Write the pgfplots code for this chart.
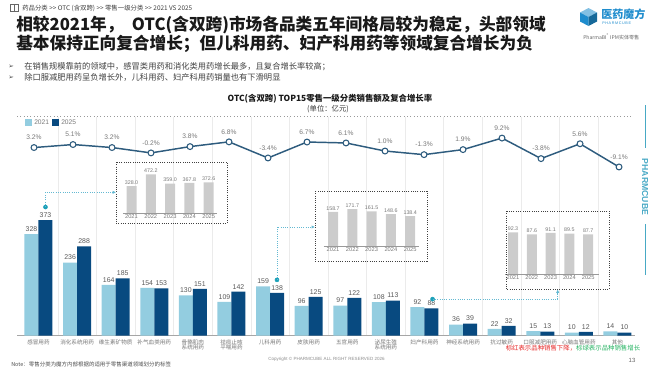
\documentclass[border=0pt]{standalone}
\usepackage{pgfplots}
\pgfplotsset{compat=1.18}
\usepackage{fontspec}
\setmainfont{Liberation Sans}
\newfontfamily\cjk{Noto Sans CJK SC}
\newfontfamily\dejavu{DejaVu Sans}
\usetikzlibrary{arrows.meta}
\definecolor{lb}{RGB}{147,205,224}
\definecolor{db}{RGB}{8,74,128}
\definecolor{ln}{RGB}{46,92,126}
\definecolor{txt}{RGB}{89,89,89}
\definecolor{txtl}{RGB}{120,120,120}
\definecolor{ttl}{RGB}{25,25,25}
\definecolor{conn}{RGB}{100,185,210}
\definecolor{dotc}{RGB}{26,160,184}
\definecolor{ibar}{RGB}{204,204,204}
\definecolor{logo}{RGB}{30,140,205}
\definecolor{teal2}{RGB}{72,169,197}
\definecolor{redn}{RGB}{230,40,40}
\definecolor{grnn}{RGB}{40,180,100}
\pgfplotsset{/pgf/number format/assume math mode=true}
\newcommand\fs[1]{\fontsize{#1}{#1}\selectfont}
\pgfplotsset{inset/.style={anchor=south west, scale only axis, axis line style={draw=none}, ytick=\empty,
  xtick={0,...,4}, xticklabels={2021,2022,2023,2024,2025}, major tick length=0pt,
  xticklabel style={font=\fs{4.3}, text=txtl, inner sep=1pt}, clip=false, ymin=0,
  ybar, bar width=7.5pt,
  nodes near coords={\pgfmathprintnumber[fixed,fixed zerofill,precision=1]{\pgfplotspointmeta}},
  nodes near coords style={font=\fs{4}, text=txtl, anchor=south, inner sep=1pt}},
  insetbar/.style={fill=ibar, draw=none}}
\begin{document}
\begin{tikzpicture}
\path[use as bounding box] (0pt,0pt) rectangle (495pt,-279pt);
% bar axis
\begin{axis}[at={(12.75pt,-251.775pt)}, anchor=south west, scale only axis,
  width=463.5pt, height=164.25pt,
  xmin=-0.557, xmax=15.455, ymin=0, ymax=706.5,
  ybar=0pt, bar width=10.5pt,
  axis x line=bottom, axis y line=none,
  x axis line style={-, draw=black!35, line width=0.6pt},
  xtick={0,...,15}, major tick length=0pt,
  xticklabels={感冒用药,消化系统用药,维生素矿物质,补气血类用药,{骨骼肌肉\\系统用药},{祛痰止咳\\平喘用药},儿科用药,皮肤用药,五官用药,{泌尿生殖\\系统用药},妇产科用药,神经系统用药,抗过敏药,口服减肥用药,心脑血管用药,其他},
  xticklabel style={font=\cjk\fs{4.2}, text=txtl, align=center, anchor=north, yshift=0.6pt},
  minor xtick={0.5,1.5,...,14.5}, minor tick length=0pt, xminorgrids=true,
  minor x grid style={black!8, line width=0.4pt},
  ytick=\empty, clip=false,
  nodes near coords,
  nodes near coords style={font=\fs{5.2}, text=txt, anchor=south, inner sep=1pt, yshift=0.8pt},
]
\addplot[fill=lb, draw=none] coordinates {(0,328)(1,236)(2,164)(3,154)(4,130)(5,109)(6,159)(7,96)(8,97)(9,108)(10,92)(11,36)(12,22)(13,15)(14,10)(15,14)};
\addplot[fill=db, draw=none] coordinates {(0,373)(1,288)(2,185)(3,153)(4,151)(5,142)(6,138)(7,125)(8,122)(9,113)(10,88)(11,39)(12,32)(13,13)(14,12)(15,10)};
\end{axis}
% marker dots (same frame as bar axis)
\begin{axis}[at={(12.75pt,-251.775pt)}, anchor=south west, scale only axis,
  width=463.5pt, height=164.25pt,
  xmin=-0.557, xmax=15.455, ymin=0, ymax=706.5, hide axis, clip=false]
\addplot[only marks, mark=*, mark size=1.5pt, dotc] coordinates {(0.181,415)(6.179,180)(10.21,118)};
\end{axis}
% insets
\begin{axis}[inset, at={(87pt,-159.75pt)}, width=83.25pt, height=38.25pt, xmin=-0.803, xmax=4.948, ymax=622]
\addplot[insetbar] coordinates {(0,328.0)(1,472.2)(2,359.0)(3,367.8)(4,372.6)};
\draw[black!40, line width=0.6pt] (axis cs:-0.45,0) -- (axis cs:4.45,0);
\end{axis}
\begin{axis}[inset, at={(236.25pt,-184.5pt)}, width=84pt, height=41.25pt, xmin=-0.933, xmax=4.87, ymax=255.8]
\addplot[insetbar] coordinates {(0,158.7)(1,171.7)(2,161.5)(3,148.6)(4,138.4)};
\draw[black!40, line width=0.6pt] (axis cs:-0.48,0) -- (axis cs:4.45,0);
\end{axis}
\begin{axis}[inset, at={(379.5pt,-205.5pt)}, width=77.25pt, height=47.25pt, xmin=-0.372, xmax=5.106, ymax=139.4]
\addplot[insetbar] coordinates {(0,92.3)(1,87.6)(2,91.1)(3,89.5)(4,87.7)};
\draw[black!40, line width=0.6pt] (axis cs:-0.4,0) -- (axis cs:4.6,0);
\end{axis}
% line axis
\begin{axis}[at={(12.75pt,-251.775pt)}, anchor=south west, scale only axis,
  width=463.5pt, height=164.25pt,
  xmin=-0.436, xmax=15.41, ymin=-115.9, ymax=22.72, hide axis, clip=false]
\addplot[ln, line width=1.1pt, mark=*, mark size=2.2pt, mark options={fill=white, draw=ln, line width=0.8pt},
  nodes near coords={\pgfmathprintnumber[fixed,fixed zerofill,precision=1]{\pgfplotspointmeta}\%},
  nodes near coords style={font=\fs{5}, text=txtl, anchor=south, yshift=2pt}]
 coordinates {(0,3.2)(1,5.1)(2,3.2)(3,-0.2)(4,3.8)(5,6.8)(6,-3.4)(7,6.7)(8,6.1)(9,1.0)(10,-1.3)(11,1.9)(12,9.2)(13,-3.8)(14,5.6)(15,-9.1)};
\end{axis}
\begin{scope}[x=0.75pt, y=-0.75pt]
% header
\draw[black!60, line width=0.5pt] (10,4.5) rectangle (18,11.5);
\draw[black!60, line width=0.5pt] (14,4.5) -- (14,11.5);
\node[anchor=west, font=\cjk\fs{4.8}, text=black!75, inner sep=0] at (22,8) {药品分类 >> OTC (含双跨) >> 零售一级分类 >> 2021 VS 2025};
\node[anchor=west, font=\cjk\bfseries\fs{12.5}, text=ttl, inner sep=0] at (16,25) {相较2021年，\hspace{0.5em}OTC(含双跨)市场各品类五年间格局较为稳定，头部领域};
\node[anchor=west, font=\cjk\bfseries\fs{12.5}, text=ttl, inner sep=0] at (16,44) {基本保持正向复合增长；但儿科用药、妇产科用药等领域复合增长为负};
\node[anchor=west, font=\dejavu\fs{5}, text=black!70, inner sep=0] at (8,66.7) {➢};
\node[anchor=west, font=\dejavu\fs{5}, text=black!70, inner sep=0] at (8,77.7) {➢};
\node[anchor=west, font=\cjk\fs{6.2}, text=black!75, inner sep=0] at (24,66.7) {在销售规模靠前的领域中，感冒类用药和消化类用药增长最多，且复合增长率较高；};
\node[anchor=west, font=\cjk\fs{6.2}, text=black!75, inner sep=0] at (24,77.7) {除口服减肥用药呈负增长外，儿科用药、妇产科用药销量也有下滑明显};
% logo
\fill[logo!55] (588.5,8) -- (597,12.5) -- (588.5,17) -- (580,12.5) -- cycle;
\fill[logo] (580,12.5) -- (588.5,17) -- (588.5,26) -- (580,21.5) -- cycle;
\fill[logo!75!black] (588.5,17) -- (597,12.5) -- (597,21.5) -- (588.5,26) -- cycle;
\node[anchor=west, font=\cjk\bfseries\fs{8.3}, text=logo, inner sep=0] at (601,14.5) {医药魔方};
\node[anchor=west, font=\fs{2.8}, text=logo, inner sep=0] at (602,23.5) {P\,H\,A\,R\,M\,C\,U\,B\,E};
\node[anchor=west, font=\cjk\fs{3.8}, text=black!60, inner sep=0] at (583,37) {PharmaBI\textsuperscript{®} IPM实体零售};
% chart title
\node[font=\cjk\bfseries\fs{6.3}, text=ttl] at (330,98.5) {OTC(含双跨) TOP15零售一级分类销售额及复合增长率};
\node[font=\cjk\fs{5.5}, text=black!80] at (328,109) {(单位：亿元)};
\draw[black!40, dotted, line width=0.5pt] (17,116.7) -- (632,116.7);
% legend
\fill[lb] (25,118.5) rectangle (32,126);
\node[anchor=west, font=\fs{5}, text=txtl, inner sep=0] at (34,122.3) {2021};
\fill[db] (52,118.5) rectangle (59,126);
\node[anchor=west, font=\fs{5}, text=txtl, inner sep=0] at (61,122.3) {2025};
% inset boxes
\draw[black!75, densely dotted, line width=0.7pt] (116,162) rectangle (227,223);
\draw[black!75, densely dotted, line width=0.7pt] (315,191) rectangle (427,261);
\draw[black!75, densely dotted, line width=0.7pt] (506,211) rectangle (609,289);
% connectors
\draw[conn, densely dotted, line width=0.7pt, -{Latex[length=2.5pt,width=2.5pt]}] (45.5,207) -- (45.5,192.3) -- (116,192.3);
\draw[conn, densely dotted, line width=0.7pt, -{Latex[length=2.5pt,width=2.5pt]}] (277,280) -- (277,227) -- (315,227);
\draw[conn, densely dotted, line width=0.7pt, -{Latex[length=2.5pt,width=2.5pt]}] (432.7,299) -- (557.7,299) -- (557.7,289.5);
% right vertical brand
\draw[teal2, line width=0.5pt] (645,105) -- (645,148);
\node[rotate=-90, font=\bfseries\fs{6.5}, text=teal2] at (645,187) {PHARMCUBE};
\draw[teal2, line width=0.5pt] (645,224) -- (645,275);
% footer
\node[anchor=west, font=\cjk\fs{4.1}, text=black!70, inner sep=0] at (11,364) {Note：零售分类为魔方内部根据的适用于零售渠道领域划分的标签};
\node[anchor=west, font=\fs{3.4}, text=black!45, inner sep=0] at (268,359) {Copyright © PHARMCUBE ALL RIGHT RESERVED 2026};
\node[font=\fs{4.5}, text=black!60] at (632,360) {13};
\node[anchor=west, font=\cjk\fs{4.8}, inner sep=0] at (505.5,347.8) {\textcolor{redn}{标红表示品种销售下降，}\textcolor{grnn}{标绿表示品种销售增长}};
\end{scope}
\end{tikzpicture}
\end{document}
